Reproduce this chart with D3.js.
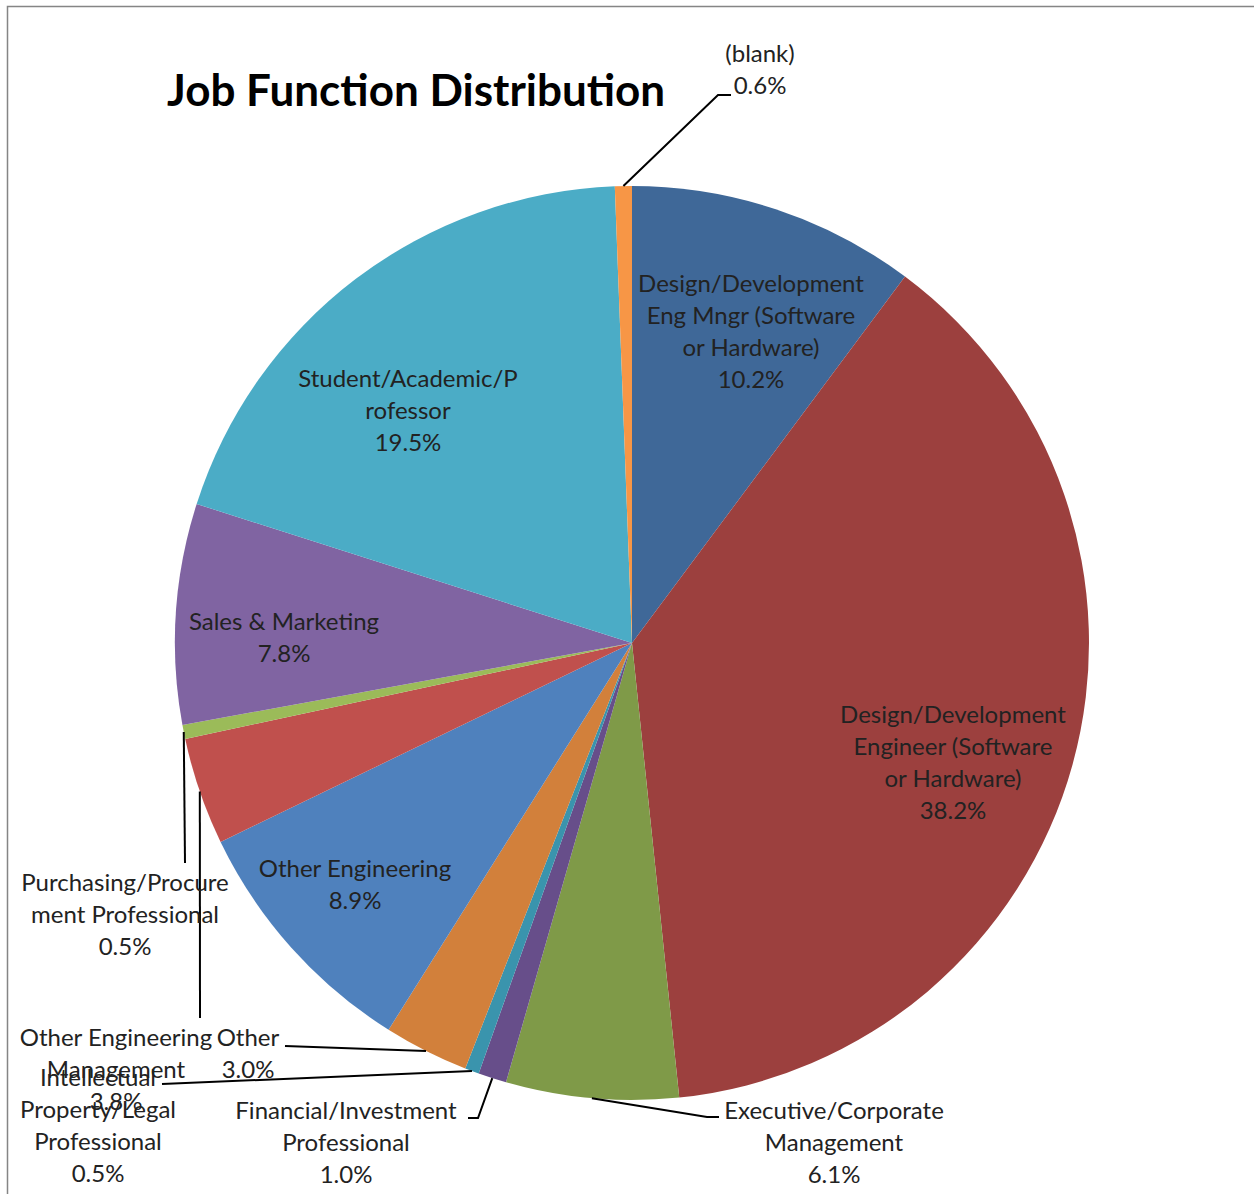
<!DOCTYPE html>
<html>
<head>
<meta charset="utf-8">
<script src="https://cdn.jsdelivr.net/npm/d3@7"></script>
<style>
  body { margin: 0; background: #fff; }
  svg { display: block; }
  .lbl { font-family: Lato, "Open Sans", sans-serif; font-size: 24px; fill: #222; }
  .title { font-family: Lato, "Open Sans", sans-serif; font-size: 44px; font-weight: bold; fill: #000; }
</style>
</head>
<body>
<svg id="svg" width="1254" height="1194"></svg>
<script>
// Job function categories, clockwise from 12 o'clock
var categories = [
  "Design/Development Eng Mngr (Software or Hardware)",
  "Design/Development Engineer (Software or Hardware)",
  "Executive/Corporate Management",
  "Financial/Investment Professional",
  "Intellectual Property/Legal Professional",
  "Other",
  "Other Engineering",
  "Other Engineering Management",
  "Purchasing/Procurement Professional",
  "Sales & Marketing",
  "Student/Academic/Professor",
  "(blank)"
];

// share in percent
var shares = [10.2, 38.2, 6.1, 1.0, 0.5, 3.0, 8.9, 3.8, 0.5, 7.8, 19.5, 0.6];

// how each label is broken into lines in the chart
var labelLines = [
  ["Design/Development", "Eng Mngr (Software", "or Hardware)"],
  ["Design/Development", "Engineer (Software", "or Hardware)"],
  ["Executive/Corporate", "Management"],
  ["Financial/Investment", "Professional"],
  ["Intellectual", "Property/Legal", "Professional"],
  ["Other"],
  ["Other Engineering"],
  ["Other Engineering", "Management"],
  ["Purchasing/Procure", "ment Professional"],
  ["Sales & Marketing"],
  ["Student/Academic/P", "rofessor"],
  ["(blank)"]
];

var colors = ["#3f6898", "#9c403e", "#7f9a48", "#674e8a", "#3a94ad", "#d2803b",
              "#4f81bd", "#c0504d", "#9bbb59", "#8064a2", "#4bacc6", "#f79646"];

/* Label layout
 * x, y = centre of first text line; elbow/end = leader line points
 */
var labelLayout = {
  "Design/Development Eng Mngr (Software or Hardware)": {x: 751, y: 283},
  "Design/Development Engineer (Software or Hardware)": {x: 953, y: 714},
  "Executive/Corporate Management": {x: 834, y: 1110, elbow: [707, 1117], end: [719, 1117]},
  "Financial/Investment Professional": {x: 346, y: 1110, elbow: [478, 1118], end: [468, 1118]},
  "Intellectual Property/Legal Professional": {x: 98, y: 1077, end: [162, 1084]},
  "Other": {x: 248, y: 1037, end: [285, 1046]},
  "Other Engineering": {x: 355, y: 868},
  "Other Engineering Management": {x: 116, y: 1037, end: [200, 1018]},
  "Purchasing/Procurement Professional": {x: 125, y: 882, end: [185, 863]},
  "Sales & Marketing": {x: 284, y: 621},
  "Student/Academic/Professor": {x: 408, y: 378},
  "(blank)": {x: 760, y: 53, elbow: [718, 95], end: [731, 95]}
};

var svg = d3.select("#svg"),
    width = +svg.attr("width"),
    height = +svg.attr("height");

var cx = 632, cy = 643, radius = 457;
var lineH = 32;

// chart frame (runs off the right and bottom of the picture)
svg.append("rect")
    .attr("x", 7.5).attr("y", 6.5)
    .attr("width", width + 20).attr("height", height + 20)
    .attr("fill", "none")
    .attr("stroke", "#858585")
    .attr("stroke-width", 1.5);

svg.append("text")
    .attr("class", "title")
    .attr("x", 167)
    .attr("y", 106)
    .text("Job Function Distribution");

var data = categories.map(function(c, i) {
  return {name: c, value: shares[i], color: colors[i], lines: labelLines[i]};
});

var pie = d3.pie()
    .sort(null)
    .value(function(d) { return d.value; });

var arc = d3.arc().innerRadius(0).outerRadius(radius);
var edge = d3.arc().innerRadius(radius).outerRadius(radius);

var arcs = pie(data);

var g = svg.append("g").attr("transform", "translate(" + cx + "," + cy + ")");

g.selectAll("path.slice")
    .data(arcs)
    .enter().append("path")
      .attr("class", "slice")
      .attr("d", arc)
      .attr("fill", function(d) { return d.data.color; });

// leader lines, from slice edge to the dragged label
var leaders = arcs.filter(function(d) { return labelLayout[d.data.name].end; });

svg.append("g")
    .selectAll("polyline")
    .data(leaders)
    .enter().append("polyline")
      .attr("fill", "none")
      .attr("stroke", "#000")
      .attr("stroke-width", 2)
      .attr("points", function(d) {
        var p = edge.centroid(d);
        var pts = [[cx + p[0], cy + p[1]]];
        var lay = labelLayout[d.data.name];
        if (lay.elbow) pts.push(lay.elbow);
        pts.push(lay.end);
        return pts.map(function(q) { return q.join(","); }).join(" ");
      });

// labels: name lines + percentage
var labels = svg.append("g")
    .selectAll("text")
    .data(arcs)
    .enter().append("text")
      .attr("class", "lbl")
      .attr("text-anchor", "middle");

labels.each(function(d) {
  var lay = labelLayout[d.data.name];
  var lines = d.data.lines.concat([d3.format(".1f")(d.data.value) + "%"]);
  var t = d3.select(this);
  lines.forEach(function(s, i) {
    t.append("tspan")
        .attr("x", lay.x)
        .attr("y", lay.y + i * lineH + 8.5)
        .text(s);
  });
});
</script>
</body>
</html>
